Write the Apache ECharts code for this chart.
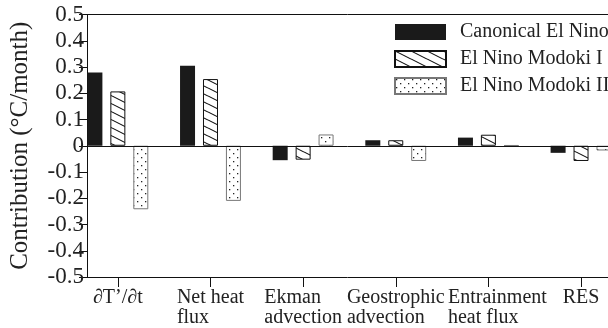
<!DOCTYPE html>
<html><head><meta charset="utf-8">
<script src="https://cdn.jsdelivr.net/npm/echarts@6/dist/echarts.min.js"></script>
<style>html,body{margin:0;padding:0;background:#fff}#c{width:608px;height:328px}</style>
</head><body><div id="c"></div>
<script>
const categories = ['∂T’/∂t', 'Net heat\nflux', 'Ekman\nadvection', 'Geostrophic\nadvection', 'Entrainment\nheat flux', 'RES'];
const seriesNames = ['Canonical El Nino', 'El Nino Modoki I', 'El Nino Modoki II'];
const canonical = [0.279, 0.305, -0.055, 0.021, 0.031, -0.027];
const modokiI = [0.207, 0.254, -0.053, 0.021, 0.042, -0.058];
const modokiII = [-0.242, -0.210, 0.043, -0.058, 0.002, -0.018];
const yTicks = [-0.5, -0.4, -0.3, -0.2, -0.1, 0, 0.1, 0.2, 0.3, 0.4, 0.5];

const FONT = '"Liberation Serif", "DejaVu Serif", serif';

function hatch() {
  const c = document.createElement('canvas'); c.width = 16; c.height = 8;
  const g = c.getContext('2d'); g.fillStyle = '#fff'; g.fillRect(0, 0, 16, 8);
  g.strokeStyle = '#111'; g.lineWidth = 1.1;
  for (const dy of [-8, 0, 8]) { g.beginPath(); g.moveTo(0, dy); g.lineTo(16, dy + 8); g.stroke(); }
  return c;
}
function dots() {
  const c = document.createElement('canvas'); c.width = 8; c.height = 8;
  const g = c.getContext('2d'); g.fillStyle = '#fff'; g.fillRect(0, 0, 8, 8);
  g.fillStyle = '#222'; g.fillRect(1, 1, 1.3, 1.3); g.fillRect(5, 5, 1.3, 1.3);
  return c;
}
const styles = [
  { color: '#1a1a1a', borderColor: '#1a1a1a', borderWidth: 0 },
  { color: { image: hatch(), repeat: 'repeat' }, borderColor: '#111', borderWidth: 1 },
  { color: { image: dots(), repeat: 'repeat' }, borderColor: '#777', borderWidth: 1 }
];
const values = [canonical, modokiI, modokiII];
const catIdx = categories.map((_, i) => i);

const chart = echarts.init(document.getElementById('c'), null, { renderer: 'canvas' });
const series = values.map((vals, s) => ({
  name: seriesNames[s], type: 'bar', xAxisIndex: 0,
  data: vals.map((v, i) => [i, v]),
  barWidth: 15, barGap: '53%',
  itemStyle: styles[s],
  emphasis: { disabled: true },
  markLine: s === 0 ? { silent: true, symbol: 'none', label: { show: false },
    lineStyle: { color: '#111', width: 1, type: 'solid' }, data: [{ yAxis: 0 }] } : undefined
}));
chart.setOption({
  animation: false,
  grid: { left: 85, right: 0, top: 14.5, bottom: 50 },
  legend: {
    left: 394, top: 22, padding: 0, orient: 'vertical', itemWidth: 51, itemHeight: 16, itemGap: 7,
    icon: 'rect', data: seriesNames,
    textStyle: { fontFamily: FONT, fontSize: 20, color: '#222', padding: [0, 0, 0, 9] }
  },
  xAxis: [{
    type: 'value', min: -0.333, max: 5.291, position: 'bottom',
    axisLine: { show: true, onZero: false, lineStyle: { color: '#111', width: 1 } },
    splitLine: { show: false },
    axisTick: { show: true, customValues: catIdx, length: 10, lineStyle: { color: '#111' } },
    axisLabel: {
      customValues: catIdx, margin: 11, color: '#222',
      formatter: v => {
        const i = Math.round(v);
        const st = i === 4 ? 'e' : 'a';
        return categories[i].split('\n').map(l => '{' + st + '|' + l + '}').join('\n');
      },
      rich: {
        a: { fontFamily: FONT, fontSize: 20, lineHeight: 20, color: '#222', align: 'left' },
        e: { fontFamily: FONT, fontSize: 20, lineHeight: 20, color: '#222', align: 'left', padding: [0, 0, 0, 18] }
      }
    }
  }, {
    type: 'value', min: -0.333, max: 5.291, position: 'top',
    axisLine: { show: true, onZero: false, lineStyle: { color: '#111', width: 1 } },
    splitLine: { show: false }, axisTick: { show: false }, axisLabel: { show: false }
  }],
  yAxis: {
    type: 'value', min: -0.5, max: 0.5, interval: 0.1,
    name: 'Contribution (°C/month)', nameLocation: 'middle', nameGap: 54, nameRotate: 90,
    nameTextStyle: { fontFamily: FONT, fontSize: 25, color: '#222' },
    axisLine: { show: true, onZero: false, lineStyle: { color: '#111', width: 1 } },
    axisTick: { show: true, length: 8, lineStyle: { color: '#111' } },
    splitLine: { show: false },
    axisLabel: { fontFamily: FONT, fontSize: 23, color: '#222', margin: 3,
      formatter: v => { const r = Math.round(v * 10) / 10; return r === 0 ? '0' : r.toFixed(1); } }
  },
  series
});
</script></body></html>
